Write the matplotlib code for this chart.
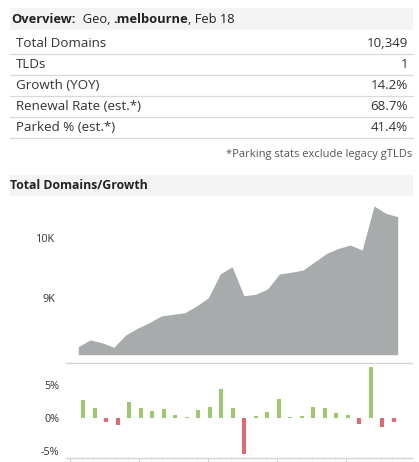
import matplotlib
matplotlib.use("Agg")
import matplotlib.pyplot as plt
from matplotlib.patches import Rectangle
from matplotlib.ticker import FixedLocator
import numpy as np

plt.rcParams['font.family'] = ['Open Sans', 'DejaVu Sans']

# ---------------- data ----------------
title_parts = [("Overview:", "bold"), ("  Geo, ", "normal"), (".melbourne", "bold"), (", Feb 18", "normal")]
row_labels = ["Total Domains", "TLDs", "Growth (YOY)", "Renewal Rate (est.*)", "Parked % (est.*)"]
row_values = ["10,349", "1", "14.2%", "68.7%", "41.4%"]
footnote = "*Parking stats exclude legacy gTLDs"
section_title = "Total Domains/Growth"

domains = [8200, 8311, 8266, 8190, 8393, 8504, 8597, 8707, 8735, 8762, 8873, 9010,
           9402, 9522, 9043, 9066, 9154, 9402, 9430, 9468, 9605, 9744, 9826, 9881,
           9798, 10526, 10405, 10349]
growth = [2.7, 1.5, -0.6, -1.1, 2.4, 1.5, 1.05, 1.35, 0.35, 0.15, 1.2, 1.65,
          4.4, 1.5, -5.5, 0.3, 0.9, 2.9, 0.15, 0.3, 1.65, 1.5, 0.75, 0.4,
          -0.95, 7.7, -1.35, -0.6]
area_ticks = [9000, 10000]
area_ticklabels = ["9K", "10K"]
growth_ticks = [-5, 0, 5]
growth_ticklabels = ["-5%", "0%", "5%"]

W, H = 419, 462
fig = plt.figure(figsize=(W / 100, H / 100), dpi=100)

def fr(x0, y0, x1, y1):
    return [x0 / W, 1 - y1 / H, (x1 - x0) / W, (y1 - y0) / H]

# ---------------- overlay for table / headers ----------------
ov = fig.add_axes([0, 0, 1, 1])
ov.set_xlim(0, W)
ov.set_ylim(H, 0)
ov.axis("off")

txt = "#333333"
band = "#f4f4f4"
line_c = "#d9d9d9"

ov.add_patch(Rectangle((10, 8), 403, 22, facecolor=band, edgecolor="none"))
prev = None
for s, w in title_parts:
    if prev is None:
        prev = ov.text(11, 19.5, s, fontsize=9.3, fontweight=w, color="#222222",
                       ha="left", va="center")
    else:
        prev = ov.annotate(s, xy=(1, 0), xycoords=prev, fontsize=9.3, fontweight=w,
                           color="#222222", ha="left", va="bottom")

row_top = 33
row_h = 21
for i, (lab, val) in enumerate(zip(row_labels, row_values)):
    yc = row_top + row_h * i + 10.5
    ov.text(16, yc, lab, fontsize=9.6, color=txt, ha="left", va="center")
    ov.text(408, yc, val, fontsize=9.6, color=txt, ha="right", va="center")
    ly = row_top + row_h * (i + 1)
    ov.plot([10, 413], [ly, ly], color=line_c, lw=0.9)

ov.text(412.5, 154.5, footnote, fontsize=8.0, color="#555555", ha="right", va="center")

ov.add_patch(Rectangle((10, 175), 403, 21, facecolor=band, edgecolor="none"))
ov.text(10, 185.5, section_title, fontsize=8.8, fontweight="bold", color="#222222",
        ha="left", va="center")

# ---------------- area chart ----------------
x = np.arange(len(domains))
ax1 = fig.add_axes(fr(66, 200, 412, 354.7))
ax1.fill_between(x, domains, 8068, color="#a7abab", lw=0, zorder=2)
ax1.set_xlim(-1.04, len(domains) - 1 + 1.21)
ax1.set_ylim(8068, 10625)
for sp in ax1.spines.values():
    sp.set_visible(False)
ax1.set_xticks([])
ax1.yaxis.set_major_locator(FixedLocator(area_ticks))
ax1.set_yticklabels(area_ticklabels)
ax1.tick_params(axis="y", length=0, pad=8, labelsize=7.8, labelcolor="#333333")
ax1.patch.set_alpha(0)

# ---------------- growth bars ----------------
ax2 = fig.add_axes(fr(66, 363.3, 412, 458.3))
g = np.array(growth)
cols = ["#9dc86f" if v >= 0 else "#e06a73" for v in g]
ax2.bar(x, g, width=0.35, color=cols, zorder=2)
ax2.set_xlim(-1.5, len(growth) - 1 + 1.57)
ax2.set_ylim(-6.15, 8.24)
for k in ["left", "right"]:
    ax2.spines[k].set_visible(False)
for k in ["top", "bottom"]:
    ax2.spines[k].set_color("#d4d4d4")
    ax2.spines[k].set_linewidth(1.0)
ax2.yaxis.set_major_locator(FixedLocator(growth_ticks))
ax2.set_yticklabels(growth_ticklabels)
ax2.tick_params(axis="y", length=0, pad=5, labelsize=7.8, labelcolor="#333333")
major = [i - 0.15 for i in range(-1, len(growth), 6)]
minor = [i - 0.15 for i in range(-1, len(growth) + 1)]
ax2.xaxis.set_major_locator(FixedLocator(major))
ax2.xaxis.set_minor_locator(FixedLocator(minor))
ax2.tick_params(axis="x", which="major", length=4, color="#d0d0d0", labelbottom=False)
ax2.tick_params(axis="x", which="minor", length=2, color="#ececec", labelbottom=False)
ax2.patch.set_alpha(0)

fig.savefig("out.png", dpi=100)
